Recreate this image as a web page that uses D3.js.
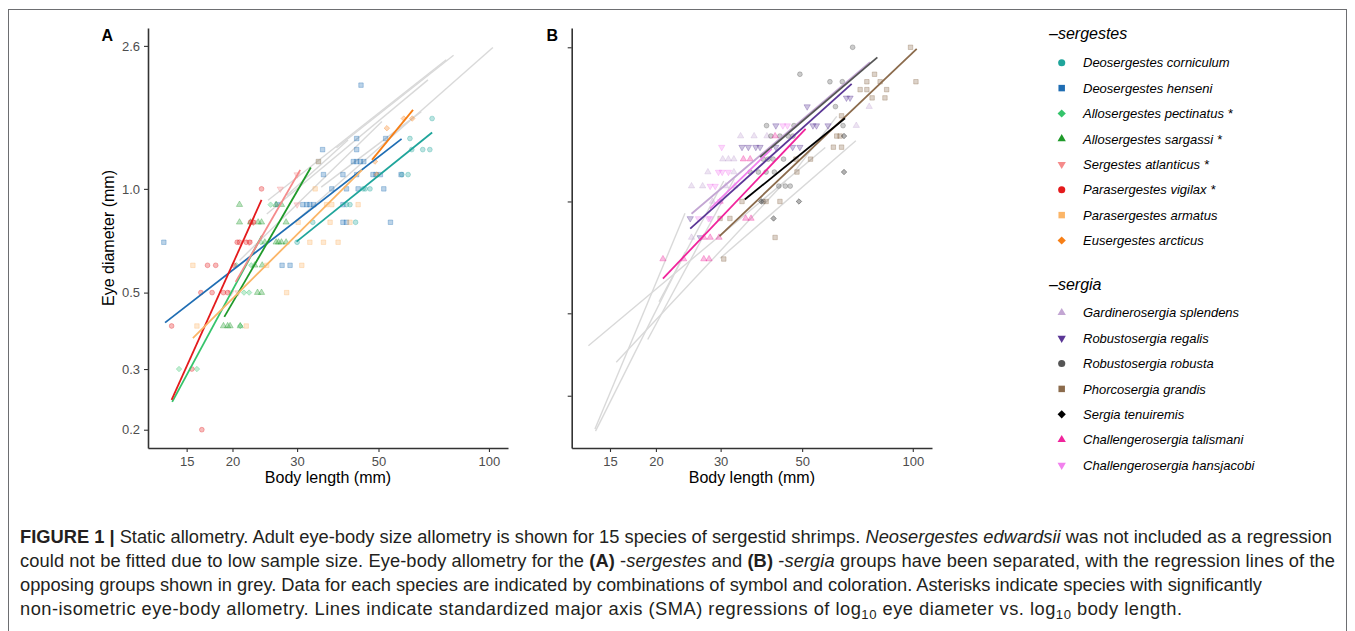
<!DOCTYPE html>
<html>
<head>
<meta charset="utf-8">
<script src="https://cdn.jsdelivr.net/npm/d3@7"></script>
<style>
  body { margin: 0; background: #fff; }
  svg { display: block; }
  text { font-family: "Liberation Sans", Arial, Helvetica, sans-serif; }
</style>
</head>
<body>
<svg id="fig" width="1355" height="631"></svg>
<script>
// ---- data ----
var xTicks = [15, 20, 30, 50, 100];
var yTicks = [0.2, 0.3, 0.5, 1.0, 2.6];

var sergestesNames = ["Deosergestes corniculum", "Deosergestes henseni", "Allosergestes pectinatus *",
  "Allosergestes sargassi *", "Sergestes atlanticus *", "Parasergestes vigilax *",
  "Parasergestes armatus", "Eusergestes arcticus"];
var sergestesColors = ["#1fa59b", "#1f6db3", "#35c46b", "#1f9a2a", "#f58b8b", "#e41a1c", "#fbb567", "#f77f16"];
var sergestesShapes = ["circle", "square", "diamond", "triangle", "triangleDown", "circle", "square", "diamond"];

// SMA regression lines: [length1, eye1, length2, eye2] (mm)
var sergestesLines = [
  [29.9, 0.703, 70.0, 1.457],
  [13.1, 0.409, 57.8, 1.397],
  [13.7, 0.241, 24.05, 0.731],
  [19.0, 0.425, 32.7, 1.153],
  [20.4, 0.537, 30.6, 1.135],
  [13.65, 0.244, 24.0, 0.929],
  [15.6, 0.369, 45.1, 1.135],
  [48.0, 1.214, 62.1, 1.695]
];

// specimens: [body length, eye diameter] (mm)
var corniculumPts = [[61.6, 1.3], [66, 1.3], [69, 1.3], [60.9, 1.4], [70, 1.6], [57.9, 1.1], [60.2, 1.1],
  [47.4, 1.0], [45.4, 1.0], [43.3, 0.8], [40.9, 0.9], [30, 0.7], [33.1, 0.8], [41.8, 0.9], [46, 1.0]];
var hensenPts = [[35.2, 1.3], [43.6, 1.3], [43.6, 1.4], [52.3, 1.4], [44.8, 2.0], [42.7, 1.2], [43.6, 1.2],
  [44.6, 1.2], [45.6, 1.2], [34.3, 1.2], [35.4, 1.1], [40, 1.1], [43.6, 1.1], [48.3, 1.1], [49.2, 1.1],
  [50.6, 1.1], [57.6, 1.1], [37.3, 1.0], [40.9, 1.0], [44, 1.0], [51.7, 1.0], [26.5, 0.9], [31.1, 0.9],
  [31.9, 0.9], [32.5, 0.9], [33.3, 0.9], [40, 0.9], [40, 0.8], [40.9, 0.8], [53.9, 0.8], [13, 0.7],
  [27.3, 0.6], [28.7, 0.6]];
var pectinatusPts = [[14.3, 0.3], [16, 0.3], [21.5, 0.5], [22.2, 0.5], [23.9, 0.7], [21, 0.4], [20.5, 0.6],
  [25.4, 0.9], [22.5, 0.6]];
var sargassiPts = [[20.9, 0.9], [20.9, 0.8], [23.5, 0.8], [24, 0.8], [28, 0.8], [26.3, 0.7], [26.7, 0.7],
  [27.2, 0.7], [28, 0.7], [24.5, 0.7], [23, 0.6], [24.1, 0.6], [23.4, 0.5], [24, 0.5], [18.9, 0.4],
  [19.4, 0.4], [19.7, 0.4], [21, 0.4], [26.3, 0.9], [27.2, 0.9], [22.4, 0.8]];
var atlanticusPts = [[30, 1.1], [27, 1.0], [30, 0.9], [20.7, 0.5], [22.2, 0.7], [22.8, 0.8], [19.8, 0.5]];
var vigilaxPts = [[24, 1.0], [22.4, 0.8], [22.8, 0.8], [20.6, 0.7], [20.9, 0.7], [21.8, 0.7], [22.3, 0.7],
  [17.1, 0.6], [18, 0.6], [20.2, 0.6], [16.4, 0.5], [17.6, 0.5], [18.9, 0.5], [19.4, 0.5], [13.65, 0.4],
  [15.5, 0.3], [16.5, 0.2]];
var armatusPts = [[34.3, 1.2], [33.6, 1.0], [37.3, 0.9], [36.1, 0.9], [44, 0.9], [30.2, 0.8], [36.9, 0.8],
  [41.8, 0.8], [32.5, 0.7], [35.4, 0.7], [38.8, 0.7], [15.6, 0.6], [24.8, 0.6], [30.9, 0.6], [28.1, 0.5],
  [16, 0.4], [21.8, 0.4]];
var arcticusPts = [[52.7, 1.5], [58.6, 1.6], [61.8, 1.6], [48.9, 1.2], [49.5, 1.1]];
var sergestesPoints = [corniculumPts, hensenPts, pectinatusPts, sargassiPts, atlanticusPts, vigilaxPts,
  armatusPts, arcticusPts];

var sergiaNames = ["Gardinerosergia splendens", "Robustosergia regalis", "Robustosergia robusta",
  "Phorcosergia grandis", "Sergia tenuiremis", "Challengerosergia talismani", "Challengerosergia hansjacobi"];
var sergiaColors = ["#c3a6d3", "#5b3796", "#555555", "#8b6b4c", "#000000", "#f0249c", "#f281ee"];
var sergiaShapes = ["triangle", "triangleDown", "circle", "square", "diamond", "triangle", "triangleDown"];

var sergiaLines = [
  [25.0, 0.927, 76.5, 2.369],
  [24.8, 0.845, 68.2, 2.072],
  [38.4, 1.316, 80.1, 2.443],
  [29.8, 0.807, 102.5, 2.573],
  [34.9, 1.012, 65.4, 1.675],
  [20.9, 0.620, 51.1, 1.568],
  [28.1, 0.956, 41.3, 1.386]
];

var splendensPts = [[76.1, 1.8], [70.2, 1.6], [34, 1.5], [37, 1.5], [40.1, 1.5], [30.4, 1.3], [31.5, 1.3],
  [32.6, 1.3], [27.7, 1.2], [32.6, 1.2], [25, 1.1], [26.8, 1.1], [31, 1.1], [32.8, 1.1], [28.5, 1.0], [25, 0.8]];
var regalisPts = [[67.5, 1.9], [66, 1.9], [51.6, 1.8], [53.5, 1.6], [54.7, 1.6], [58.8, 1.6], [42.4, 1.6],
  [34.3, 1.4], [35.7, 1.4], [37.4, 1.4], [38.4, 1.4], [42.4, 1.4], [47.1, 1.4], [49.3, 1.4], [24.8, 0.9],
  [26.4, 0.8]];
var robustaPts = [[68.6, 2.6], [49.3, 2.2], [59.5, 2.1], [64.3, 2.1], [61.6, 1.8], [40, 1.6], [47.5, 1.6],
  [64.6, 1.6], [41.1, 1.5], [43.5, 1.5], [45.8, 1.5], [47.2, 1.5], [39.2, 1.3], [40.4, 1.3], [41.7, 1.3],
  [44.5, 1.3], [36.1, 1.2], [38, 1.2], [39.9, 1.2], [42, 1.2], [43.2, 1.1], [45, 1.1], [46.4, 1.1], [39.2, 1.0]];
var grandisPts = [[98.6, 2.6], [78.7, 2.2], [75, 2.1], [81.5, 2.1], [102, 2.1], [71.9, 2.0], [75, 2.0],
  [84.9, 2.0], [77.5, 1.9], [84, 1.9], [64, 1.7], [62.1, 1.5], [63.4, 1.5], [60.8, 1.4], [64, 1.4], [48.1, 1.3],
  [52.7, 1.3], [48.4, 1.2], [43.5, 1.0], [34.3, 1.0], [39.9, 1.0], [29.9, 0.9], [31.8, 0.9], [42.2, 0.8],
  [30.6, 0.7]];
var tenuiremisPts = [[65, 1.5], [65, 1.2], [49, 1.0], [38.7, 1.0], [41.8, 0.9]];
var talismaniPts = [[35.1, 0.9], [36.3, 0.9], [27, 0.8], [28.1, 0.8], [29.7, 0.8], [20.9, 0.7], [23.8, 0.7],
  [27, 0.7], [27.9, 0.7], [34.6, 1.3], [36.1, 1.3], [42.2, 1.5], [29.9, 1.0]];
var hansjacobiPts = [[30.2, 1.4], [29.6, 1.2], [30.3, 1.2], [31.5, 1.2], [28.1, 1.1], [29, 1.1], [26.1, 0.9],
  [27.8, 0.9], [28.1, 0.9], [44.3, 1.6], [45.6, 1.6], [30, 1.0]];
var sergiaPoints = [splendensPts, regalisPts, robustaPts, grandisPts, tenuiremisPts, talismaniPts, hansjacobiPts];

// ---- drawing ----
var svg = d3.select("#fig");

// figure frame
svg.append("rect")
  .attr("x", 8.5).attr("y", 9.5)
  .attr("width", 1338).attr("height", 660)
  .attr("fill", "none")
  .attr("stroke", "#6d6e71")
  .attr("stroke-width", 1);

function symbolPath(shape, size) {
  var type = {
    circle: d3.symbolCircle, square: d3.symbolSquare, diamond: d3.symbolSquare,
    triangle: d3.symbolTriangle, triangleDown: d3.symbolTriangle
  }[shape];
  return d3.symbol().type(type).size(size)();
}
function symbolRotation(shape) {
  return shape === "diamond" ? 45 : (shape === "triangleDown" ? 180 : 0);
}
var pointSize = { circle: 18, square: 20, diamond: 15, triangle: 17, triangleDown: 17 };
var keySize = { circle: 40, square: 42, diamond: 34, triangle: 30, triangleDown: 30 };

function drawPanel(x, y, lines, points, colors, shapes, greyLines, tag, tagX, showYLabels) {
  var g = svg.append("g");

  // regression lines of the opposing group in grey
  g.selectAll(".grey").data(greyLines).enter().append("line")
    .attr("class", "grey")
    .attr("x1", d => x(d[0])).attr("y1", d => y(d[1]))
    .attr("x2", d => x(d[2])).attr("y2", d => y(d[3]))
    .attr("stroke", "#d9d9d9")
    .attr("stroke-width", 1.4);

  // specimens
  points.forEach(function (pts, i) {
    g.selectAll(null).data(pts).enter().append("path")
      .attr("d", symbolPath(shapes[i], pointSize[shapes[i]]))
      .attr("transform", d => `translate(${x(d[0])},${y(d[1])}) rotate(${symbolRotation(shapes[i])})`)
      .attr("fill", colors[i])
      .attr("fill-opacity", 0.3)
      .attr("stroke", colors[i])
      .attr("stroke-opacity", 0.4)
      .attr("stroke-width", 0.8);
  });

  // own SMA lines
  g.selectAll(".sma").data(lines).enter().append("line")
    .attr("class", "sma")
    .attr("x1", d => x(d[0])).attr("y1", d => y(d[1]))
    .attr("x2", d => x(d[2])).attr("y2", d => y(d[3]))
    .attr("stroke", (d, i) => colors[i])
    .attr("stroke-width", 1.8);

  // axes
  var bottomAxis = d3.axisBottom(x)
    .tickValues(xTicks)
    .tickFormat(d3.format("d"))
    .tickSize(4).tickSizeOuter(0).tickPadding(4.5);
  var yt = yTicks.filter(v => v >= y.domain()[0] && v <= y.domain()[1]);
  var leftAxis = d3.axisLeft(y)
    .tickValues(yt)
    .tickFormat(showYLabels ? d3.format(".1f") : "")
    .tickSize(4).tickSizeOuter(0).tickPadding(4);

  var xg = g.append("g").attr("transform", `translate(0, ${y.range()[0]})`).call(bottomAxis);
  var yg = g.append("g").attr("transform", `translate(${x.range()[0]}, 0)`).call(leftAxis);
  [xg, yg].forEach(function (a) {
    a.select(".domain").attr("stroke", "#333").attr("stroke-width", 1.6);
    a.selectAll(".tick line").attr("stroke", "#333").attr("stroke-width", 1.1);
    a.selectAll(".tick text").attr("fill", "#4d4d4d").style("font-size", "13px")
      .style("font-family", '"Liberation Sans", Arial, sans-serif');
  });

  var xMid = (x.range()[0] + x.range()[1]) / 2;
  g.append("text")
    .attr("x", xMid).attr("y", 483)
    .attr("text-anchor", "middle")
    .style("font-size", "16px")
    .text("Body length (mm)");

  g.append("text")
    .attr("x", tagX).attr("y", 40.5)
    .style("font-size", "16px")
    .style("font-weight", "bold")
    .text(tag);
}

var xA = d3.scaleLog().domain([11.77, 112.7]).range([148, 508]);
var yA = d3.scaleLog().domain([0.177, 2.93]).range([448, 28]);
var xB = d3.scaleLog().domain([11.8, 112.8]).range([571.7, 932]);
var yB = d3.scaleLog().domain([0.217, 2.93]).range([448, 28]);

drawPanel(xA, yA, sergestesLines, sergestesPoints, sergestesColors, sergestesShapes, sergiaLines, "A", 101.5, true);
drawPanel(xB, yB, sergiaLines, sergiaPoints, sergiaColors, sergiaShapes, sergestesLines, "B", 546.5, false);

svg.append("text")
  .attr("transform", "translate(114, 238) rotate(-90)")
  .attr("text-anchor", "middle")
  .style("font-size", "16px")
  .text("Eye diameter (mm)");

// legend
function drawLegend(title, names, colors, shapes, titleY, firstY) {
  var lg = svg.append("g");
  lg.append("text")
    .attr("x", 1049).attr("y", titleY)
    .style("font-size", "16px")
    .style("font-style", "italic")
    .text(title);
  var rows = lg.selectAll(".key").data(names).enter().append("g")
    .attr("transform", (d, i) => `translate(0, ${firstY + i * 25.4})`);
  rows.append("path")
    .attr("d", (d, i) => symbolPath(shapes[i], keySize[shapes[i]]))
    .attr("transform", (d, i) => `translate(1061.7, 0) rotate(${symbolRotation(shapes[i])})`)
    .attr("fill", (d, i) => colors[i]);
  rows.append("text")
    .attr("x", 1083).attr("y", 0).attr("dy", "0.36em")
    .style("font-size", "13px")
    .style("font-style", "italic")
    .text(d => d);
}
drawLegend("\u2013sergestes", sergestesNames, sergestesColors, sergestesShapes, 38.5, 62.7);
drawLegend("\u2013sergia", sergiaNames, sergiaColors, sergiaShapes, 290, 312.7);

// caption
var captionLines = [
  [["FIGURE 1 | ", "b"], ["Static allometry. Adult eye-body size allometry is shown for 15 species of sergestid shrimps. ", ""],
    ["Neosergestes edwardsii", "i"], [" was not included as a regression", ""]],
  [["could not be fitted due to low sample size. Eye-body allometry for the ", ""], ["(A)", "b"], [" -", ""],
    ["sergestes", "i"], [" and ", ""], ["(B)", "b"], [" -", ""], ["sergia", "i"],
    [" groups have been separated, with the regression lines of the", ""]],
  [["opposing groups shown in grey. Data for each species are indicated by combinations of symbol and coloration. Asterisks indicate species with significantly", ""]],
  [["non-isometric eye-body allometry. Lines indicate standardized major axis (SMA) regressions of log", ""],
    ["10", "sub"], [" eye diameter vs. log", ""], ["10", "sub"], [" body length.", ""]]
];
var captionY = [543, 567, 591, 615];
var captionEnd = [1332, 1335, 1262, 1182];

var cap = svg.append("g").style("font-size", "15px").attr("fill", "#231f20");
var capTexts = captionLines.map(function (parts, li) {
  var t = cap.append("text").attr("x", 20).attr("y", captionY[li]);
  var prevSub = false;
  parts.forEach(function (p) {
    var s = t.append("tspan").text(p[0]);
    if (p[1] === "b") s.style("font-weight", "bold");
    if (p[1] === "i") s.style("font-style", "italic");
    if (p[1] === "sub") s.style("font-size", "0.72em").attr("dy", "0.3em");
    if (p[1] !== "sub" && prevSub) s.attr("dy", "-0.22em");
    prevSub = p[1] === "sub";
  });
  return t;
});
// fit the caption lines to the printed widths
var w = capTexts[0].node().getComputedTextLength();
cap.style("font-size", (15 * 1313 / w).toFixed(2) + "px");
capTexts.forEach(function (t, i) {
  t.attr("textLength", captionEnd[i] - 20).attr("lengthAdjust", "spacing");
});
</script>
</body>
</html>
